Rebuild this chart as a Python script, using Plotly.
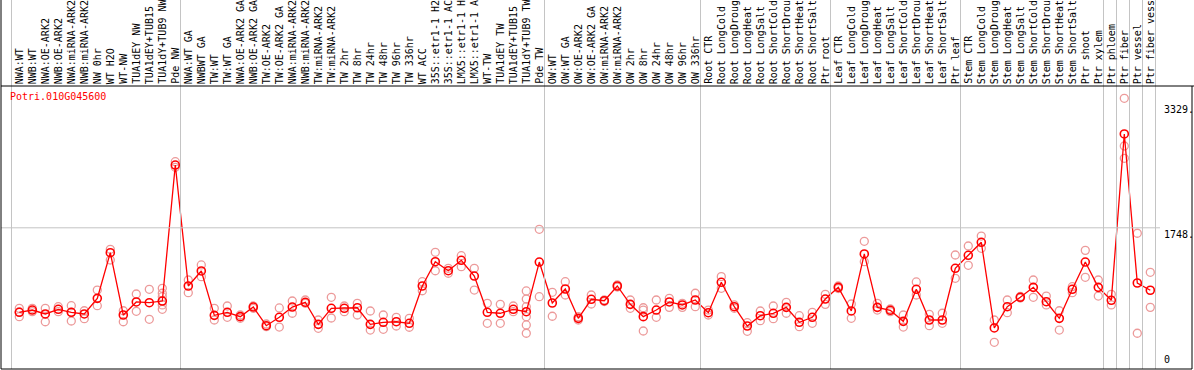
import plotly.graph_objects as go

title = "Potri.010G045600"

labels = [
    "NWA:WT", "NWB:WT", "NWA:OE-ARK2", "NWB:OE-ARK2", "NWA:miRNA-ARK2", "NWB:miRNA-ARK2",
    "NW 0hr", "WT H2O", "WT-NW", "TUA1dEY NW", "TUA1dEY+TUB15", "TUA1dY+TUB9 NW", "Pde NW",
    "NWA:WT GA", "NWBWT GA", "TW:WT", "TW:WT GA", "NWA:OE-ARK2 GA", "NWB:OE-ARK2 GA",
    "TW:OE-ARK2", "TW:OE-ARK2 GA", "NWA:miRNA-ARK2", "NWB:miRNA-ARK2", "TW:miRNA-ARK2",
    "TW:miRNA-ARK2", "TW 2hr", "TW 8hr", "TW 24hr", "TW 48hr", "TW 96hr", "TW 336hr",
    "WT ACC", "35S::etr1-1 H2", "35S::etr1-1 AC", "LMX5::etr1-1 H", "LMX5::etr1-1 A",
    "WT-TW", "TUA1dEY TW", "TUA1dEY+TUB15", "TUA1dY+TUB9 TW", "Pde TW",
    "OW:WT", "OW:WT GA", "OW:OE-ARK2", "OW:OE-ARK2 GA", "OW:miRNA-ARK2", "OW:miRNA-ARK2",
    "OW 2hr", "OW 8hr", "OW 24hr", "OW 48hr", "OW 96hr", "OW 336hr",
    "Root CTR", "Root LongCold", "Root LongDroug", "Root LongHeat", "Root LongSalt",
    "Root ShortCold", "Root ShortDrou", "Root ShortHeat", "Root ShortSalt", "Ptr root",
    "Leaf CTR", "Leaf LongCold", "Leaf LongDroug", "Leaf LongHeat", "Leaf LongSalt",
    "Leaf ShortCold", "Leaf ShortDrou", "Leaf ShortHeat", "Leaf ShortSalt", "Ptr leaf",
    "Stem CTR", "Stem LongCold", "Stem LongDroug", "Stem LongHeat", "Stem LongSalt",
    "Stem ShortCold", "Stem ShortDrou", "Stem ShortHeat", "Stem ShortSalt", "Ptr shoot",
    "Ptr xylem", "Ptr phloem", "Ptr fiber", "Ptr vessel", "Ptr fiber vess",
]

means = [
    679, 708, 658, 717, 679, 658, 856, 1433, 645, 810, 801, 822, 2542,
    1012, 1202, 641, 679, 624, 746, 510, 616, 746, 806, 527, 730, 730, 737, 527, 553,
    560, 540, 1012, 1319, 1205, 1337, 1138, 679, 667, 717, 687, 1315,
    797, 974, 603, 844, 826, 1012, 780, 624, 708, 810, 772, 835,
    674, 1059, 750, 506, 636, 667, 742, 553, 616, 847,
    995, 696, 1417, 742, 705, 565, 970, 582, 582, 1236,
    1400, 1565, 481, 750, 869, 995, 813, 603, 970, 1315, 995,
    831, 2935, 1050, 958,
]

replicates = [
    [730, 624, 683], [730, 687], [730, 560], [750, 687], [763, 569, 679], [699, 598],
    [961, 763], [1476, 1341], [699, 560], [911, 692], [970, 591],
    [983, 920, 877, 822, 772, 717], [2584, 2513],
    [1088, 927], [1278, 1130], [730, 582], [759, 616], [645, 603], [759, 730],
    [531, 497], [734, 493], [822, 667], [835, 793], [582, 477], [869, 607], [759, 687],
    [793, 645], [696, 455], [645, 464], [616, 506], [603, 490], [1066, 952], [1438, 1205],
    [1236, 1173], [1395, 1256], [1236, 961], [793, 540], [780, 540], [759, 687],
    [949, 847, 750, 624, 519, 414], [1729, 877],
    [932, 629], [1066, 898], [624, 582], [898, 784], [835, 816], [1025, 999], [835, 730],
    [737, 708, 443], [835, 616], [856, 742], [793, 742], [920, 750],
    [708, 645], [1130, 983], [772, 730], [548, 439], [696, 573], [759, 598], [806, 667],
    [636, 497], [679, 540], [907, 780],
    [1012, 980], [784, 603], [1577, 1319], [793, 708], [721, 687], [645, 493], [1063, 898],
    [654, 510], [667, 540], [1404, 1109],
    [1518, 1274], [1644, 1489], [582, 300], [835, 674], [879, 860], [1088, 869], [885, 772],
    [699, 455], [1003, 927], [1463, 1122], [1088, 885],
    [907, 772], [3386, 2783, 2627], [1679, 414], [1185, 742],
]

ytick_vals = [3329, 1748, 0]
ytick_text = ["3329.", "1748.", "0"]
group_ends = [-1, 12, 40, 52, 62, 72, 83, 84, 85, 86, 87]

FONT = "DejaVu Sans Mono"
W, H = 1194, 370
ML, MR, MT, MB = 1, 2, 86, 1
PW = W - ML - MR
PH = H - MT - MB

xs = list(range(len(labels)))
rx, ry = [], []
for i, reps in enumerate(replicates):
    for v in reps:
        rx.append(i)
        ry.append(v)

fig = go.Figure()
fig.add_trace(go.Scatter(
    x=rx, y=ry, mode="markers",
    marker=dict(symbol="circle-open", size=8, color="#ec9a9a", line=dict(width=1.3)),
    hoverinfo="skip", showlegend=False, cliponaxis=False,
))
fig.add_trace(go.Scatter(
    x=xs, y=means, mode="lines+markers",
    line=dict(color="#ff0000", width=1.3),
    marker=dict(symbol="circle-open", size=8, color="#ff0000", line=dict(width=1.6)),
    showlegend=False, cliponaxis=False,
))

shapes = []
top_paper = 1 + MT / PH
# group separators
for g in group_ends:
    shapes.append(dict(type="line", xref="x", yref="paper", x0=g + 0.4, x1=g + 0.4,
                       y0=0, y1=top_paper, line=dict(color="#c4c4c4", width=1)))
# gridline at middle tick
shapes.append(dict(type="line", xref="paper", yref="y", x0=0, x1=(1160 - ML) / PW,
                   y0=ytick_vals[1], y1=ytick_vals[1], line=dict(color="#c4c4c4", width=1)))
# frame
shapes.append(dict(type="line", xref="paper", yref="paper", x0=0, x1=0, y0=0, y1=top_paper,
                   line=dict(color="black", width=1)))
shapes.append(dict(type="line", xref="paper", yref="paper", x0=1, x1=1, y0=0, y1=1,
                   line=dict(color="black", width=1)))
shapes.append(dict(type="line", xref="paper", yref="paper", x0=0, x1=1 + MR / PW, y0=1, y1=1,
                   line=dict(color="black", width=1)))
shapes.append(dict(type="line", xref="paper", yref="paper", x0=0, x1=1, y0=0, y1=0,
                   line=dict(color="black", width=1)))

annotations = []
for i, lab in enumerate(labels):
    annotations.append(dict(x=i, xref="x", y=1, yref="paper", yshift=1, text=lab,
                            textangle=-90, showarrow=False, xanchor="center", yanchor="bottom",
                            font=dict(family=FONT, size=10, color="black"), borderpad=0))
annotations.append(dict(x=(9 - ML) / PW, xref="paper", y=1, yref="paper", yshift=-4,
                        text=title, showarrow=False, xanchor="left", yanchor="top",
                        font=dict(family=FONT, size=10, color="#ff0000"), borderpad=0))
for v, t in zip(ytick_vals, ytick_text):
    annotations.append(dict(x=(1163 - ML) / PW, xref="paper", y=v, yref="y", text=t,
                            showarrow=False, xanchor="left",
                            yanchor="bottom" if v == 0 else "top",
                            font=dict(family=FONT, size=10, color="black"), borderpad=0))

fig.update_layout(
    width=W, height=H,
    margin=dict(l=ML, r=MR, t=MT, b=MB, pad=0),
    paper_bgcolor="white", plot_bgcolor="white",
    xaxis=dict(range=[-1.408, -1.408 + PW / 13.0], showgrid=False, zeroline=False,
               showticklabels=False, ticks="", showline=False, fixedrange=True),
    yaxis=dict(range=[-37.9, 3541.6], showgrid=False, zeroline=False,
               showticklabels=False, ticks="", showline=False, fixedrange=True),
    shapes=shapes, annotations=annotations,
)

fig.write_html("out.html", config={"displayModeBar": False},
               post_script="document.body.style.margin='0';document.body.style.overflow='hidden';")
